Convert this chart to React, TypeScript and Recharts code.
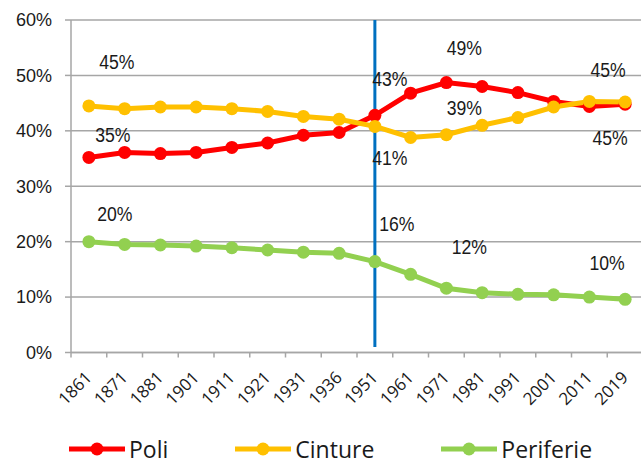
import React from 'react';
import { LineChart, Line, XAxis, YAxis, CartesianGrid, ReferenceLine, Legend } from 'recharts';

const years = ['1861', '1871', '1881', '1901', '1911', '1921', '1931', '1936', '1951', '1961', '1971', '1981', '1991', '2001', '2011', '2019'];
const poli = [35.2, 36.1, 35.9, 36.1, 37.0, 37.8, 39.2, 39.7, 42.8, 46.8, 48.7, 48.0, 46.9, 45.3, 44.4, 44.8];
const cinture = [44.5, 44.0, 44.3, 44.3, 44.0, 43.5, 42.6, 42.1, 40.8, 38.8, 39.3, 41.0, 42.4, 44.3, 45.3, 45.2];
const periferie = [20.0, 19.5, 19.4, 19.2, 18.9, 18.5, 18.1, 17.9, 16.4, 14.1, 11.6, 10.8, 10.5, 10.4, 10.0, 9.6];
const yTicks = [0, 10, 20, 30, 40, 50, 60];
const markerYear = '1951';

const data = years.map((y, i) => ({ year: y, Poli: poli[i], Cinture: cinture[i], Periferie: periferie[i] }));

// label offsets (index -> [dx, dy]) relative to the point
const labelOffsets: Record<string, Record<number, [number, number]>> = {
  Poli: { 0: [24, -23], 8: [15, -37], 10: [18, -35], 15: [-15, 33] },
  Cinture: { 0: [28, -44], 8: [15, 31], 10: [18, -27], 15: [-17, -33] },
  Periferie: { 0: [26, -28], 8: [22, -38], 10: [23, -42], 15: [-18, -37] },
};

const colors: Record<string, string> = { Poli: '#FF0000', Cinture: '#FFC000', Periferie: '#92D050' };

const CHART_W = 645;
const CHART_H = 461;
const LEFT = 71;
const RIGHT_M = 2;
const BAND = (CHART_W - LEFT - RIGHT_M) / years.length;
const GRID = '#a6a6a6';

const makeLabel = (key: string) => (props: any) => {
  const { x, y, index, value } = props;
  const off = labelOffsets[key][index];
  if (!off) return null;
  return (
    <text
      x={0}
      y={0}
      transform={`translate(${x + off[0]}, ${y + off[1]}) scale(0.84, 1)`}
      textAnchor="middle"
      dominantBaseline="central"
      fontFamily="'Liberation Sans', Arial, sans-serif"
      fontSize={21}
      fill="#1a1a1a"
    >
      {`${Math.round(value)}%`}
    </text>
  );
};

const XTick = (props: any) => {
  const { x, y, payload } = props;
  const tx = x + 4;
  const ty = y + 26;
  return (
    <g>
      <line x1={x - BAND / 2} y1={y} x2={x - BAND / 2} y2={y + 5} stroke={GRID} strokeWidth={1.5} />
      <text
        x={tx}
        y={ty}
        textAnchor="end"
        transform={`rotate(-45, ${tx}, ${ty})`}
        fontFamily="'Open Sans', sans-serif"
        fontSize={17}
        fill="#1a1a1a"
      >
        {payload.value}
      </text>
    </g>
  );
};

const LegendContent = () => (
  <div style={{ display: 'flex', alignItems: 'center', paddingLeft: 69, height: 20, gap: 67 }}>
    {['Poli', 'Cinture', 'Periferie'].map((k) => (
      <div key={k} style={{ display: 'flex', alignItems: 'center', gap: 4, height: 20 }}>
        <svg width={56} height={20}>
          <line x1={0} y1={10} x2={56} y2={10} stroke={colors[k]} strokeWidth={5} />
          <circle cx={28} cy={10} r={6.5} fill={colors[k]} />
        </svg>
        <span style={{ fontFamily: "'Open Sans', sans-serif", fontSize: 23, lineHeight: '20px', color: '#1a1a1a' }}>{k}</span>
      </div>
    ))}
  </div>
);

export default function App() {
  return (
    <div style={{ position: 'absolute', left: 0, top: 0, width: 641, height: 461, overflow: 'hidden', background: '#fff' }}>
      <LineChart width={CHART_W} height={CHART_H} data={data} margin={{ top: 20, right: RIGHT_M, bottom: 0, left: 0 }}>
        <CartesianGrid vertical={false} stroke={GRID} strokeWidth={1.5} />
        <XAxis
          dataKey="year"
          scale="band"
          interval={0}
          height={108.5}
          tickLine={false}
          tickSize={0}
          tickMargin={0}
          axisLine={{ stroke: GRID, strokeWidth: 1.5 }}
          tick={<XTick />}
        />
        <YAxis
          width={LEFT}
          domain={[0, 60]}
          ticks={yTicks}
          tickFormatter={(v: number) => `${v}%`}
          tickSize={6}
          tickMargin={13}
          tickLine={{ stroke: GRID, strokeWidth: 1.5 }}
          axisLine={{ stroke: GRID, strokeWidth: 1.5 }}
          tick={{ fontFamily: "'Liberation Sans', Arial, sans-serif", fontSize: 18, fill: '#1a1a1a' }}
        />
        <Legend
          layout="horizontal"
          verticalAlign="middle"
          align="center"
          wrapperStyle={{ top: 439, left: 0, width: 641, height: 20 }}
          content={<LegendContent />}
        />
        <ReferenceLine
          segment={[{ x: markerYear, y: 60 }, { x: markerYear, y: 1 }]}
          stroke="#0070C0"
          strokeWidth={3}
        />
        {['Poli', 'Cinture', 'Periferie'].map((k) => (
          <Line
            key={k}
            dataKey={k}
            stroke={colors[k]}
            strokeWidth={5}
            dot={{ r: 6.5, fill: colors[k], stroke: colors[k], strokeWidth: 0 }}
            activeDot={false}
            isAnimationActive={false}
            label={makeLabel(k)}
          />
        ))}
      </LineChart>
    </div>
  );
}
